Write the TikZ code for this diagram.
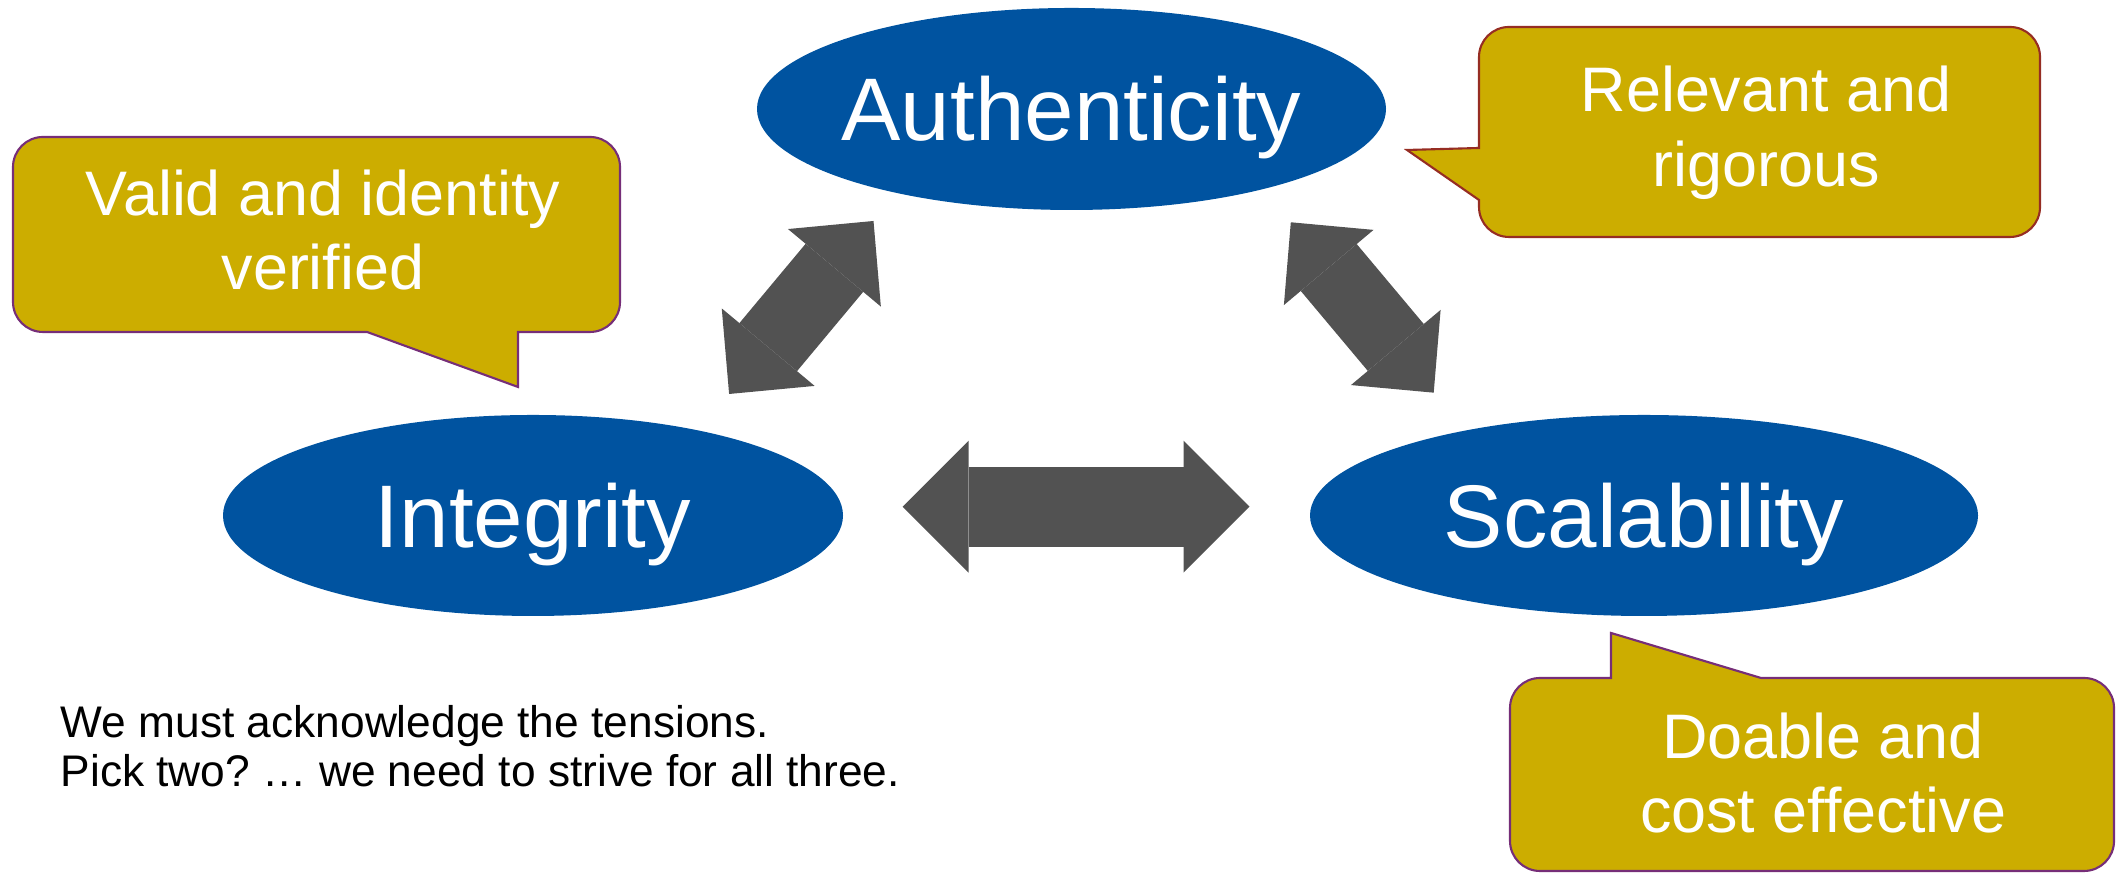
\documentclass[tikz,border=0pt]{standalone}
\usepackage{fontspec}
\setmainfont{Liberation Sans}
\usepackage{tikz}
\usetikzlibrary{arrows.meta,calc,positioning,shapes.geometric}
\frenchspacing
\definecolor{pillarblue}{RGB}{0,83,160}
\definecolor{noteyellow}{RGB}{204,173,0}
\definecolor{noteedge}{RGB}{118,46,120}
\definecolor{noteedgered}{RGB}{150,45,35}
\definecolor{tensiongray}{RGB}{82,82,82}
\tikzset{
  every picture/.append style={line cap=round,line join=round},
  pillar/.style={ellipse,fill=pillarblue,inner sep=0pt},
  pillar text/.style={text=white,inner sep=0pt,text height=18.1pt,text depth=0pt,
    font=\fontsize{25.3}{30}\selectfont},
  note/.style={fill=noteyellow,draw=noteedge,line width=0.6pt,line join=miter},
  note text/.style={text=white,align=center,inner sep=0pt,
    font=\fontsize{17.9}{21.3}\selectfont},
  remark/.style={align=left,inner sep=0pt,font=\fontsize{12.6}{13.9}\selectfont},
  tension arrow/.style n args={3}{tensiongray,line width=#1,line cap=butt,
    arrows={Triangle[width=#2,length=#3,line width=0pt]-Triangle[width=#2,length=#3,line width=0pt]}}
}

\begin{document}
\begin{tikzpicture}
  \useasboundingbox (0,0) rectangle (21.16,8.73);

  % the three pillars
  \node[pillar, minimum width=6.29cm, minimum height=2.02cm,
    label={[pillar text]center:Authenticity}] (auth) at (10.715,7.64) {};
  \node[pillar, minimum width=6.20cm, minimum height=2.01cm,
    label={[pillar text]center:Integrity}] (integ) at (5.33,3.575) {};
  \node[pillar, minimum width=6.68cm, minimum height=2.01cm,
    label={[pillar text]center:Scalability}] (scal) at (16.44,3.575) {};

  % ends of the block arrows
  \coordinate (ia-low) at (7.291,4.79);
  \coordinate (ia-high) at (8.735,6.52);
  \coordinate (as-high) at (12.908,6.507);
  \coordinate (as-low) at (14.337,4.803);
  \coordinate (is-left) at (9.026,3.663);
  \coordinate (is-right) at (12.495,3.663);

  \draw[tension arrow={0.75cm}{1.21cm}{0.61cm}] (ia-low) -- (ia-high);
  \draw[tension arrow={0.73cm}{1.17cm}{0.59cm}] (as-high) -- (as-low);
  \draw[tension arrow={0.80cm}{1.32cm}{0.66cm}] (is-left) -- (is-right);

  % callouts, sharp where the pointer meets the box
  \draw[note] (3,7.36) [rounded corners=3mm] -- (0.13,7.36) -- (0.13,5.41)
    [sharp corners] -- (3.67,5.41) -- (5.18,4.86) -- (5.18,5.41)
    [rounded corners=3mm] -- (6.20,5.41) -- (6.20,7.36) -- cycle;
  \draw[note, draw=noteedgered] (17.5,8.46) [rounded corners=3mm] -- (14.79,8.46)
    [sharp corners] -- (14.79,7.25) -- (14.07,7.23) -- (14.79,6.73)
    [rounded corners=3mm] -- (14.79,6.36) -- (20.40,6.36) -- (20.40,8.46) -- cycle;
  \draw[note] (18.5,0.02) [rounded corners=3mm] -- (15.10,0.02) -- (15.10,1.95)
    [sharp corners] -- (16.11,1.95) -- (16.11,2.40) -- (17.61,1.95)
    [rounded corners=3mm] -- (21.14,1.95) -- (21.14,0.02) -- cycle;

  \node[note text] (valid) at (3.23,6.43) {Valid and identity\\verified};
  \node[note text] (relevant) at (17.66,7.405) {Relevant and\\rigorous};
  \node[note text] (doable) at (18.23,1.00) {Doable and\\cost effective};

  \node[remark, anchor=west] (tensions) at (0.60,1.27)
    {We must acknowledge the tensions.\\Pick two? … we need to strive for all three.};
\end{tikzpicture}
\end{document}
